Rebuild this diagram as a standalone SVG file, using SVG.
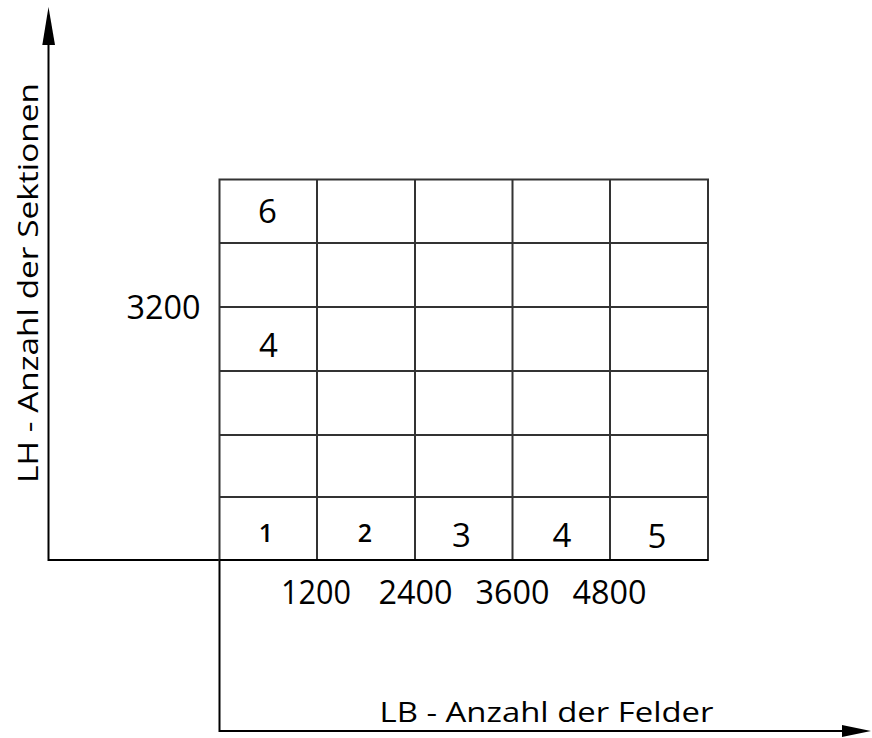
<svg xmlns="http://www.w3.org/2000/svg" width="872" height="738" viewBox="0 0 872 738">
<style>
.grid{stroke:#333;stroke-width:2;fill:none}
.axis{stroke:#000;stroke-width:2;fill:none}
.num{font-family:"Open Sans","Noto Sans",sans-serif;font-size:33px;fill:#000;text-anchor:middle}
.sm{font-size:25px;font-weight:600}
.lbl{font-family:"Open Sans","Noto Sans",sans-serif;font-size:28px;fill:#000;text-anchor:middle}
</style>
<rect width="872" height="738" fill="#fff"/>
<g id="connectors">
<polyline class="axis" points="48.5,44 48.5,560 219.5,560"/>
<polygon points="48.5,7 42.3,45 55,45" fill="#000"/>
<polyline class="axis" points="219.5,560 219.5,731 843,731"/>
<polygon points="871,731 842,725 842,737" fill="#000"/>
</g>
<g id="grid">
<rect class="grid" x="219.5" y="179.5" width="488.5" height="380.5"/>
<line class="grid" x1="317" y1="179.5" x2="317" y2="560"/>
<line class="grid" x1="415" y1="179.5" x2="415" y2="560"/>
<line class="grid" x1="512.5" y1="179.5" x2="512.5" y2="560"/>
<line class="grid" x1="610" y1="179.5" x2="610" y2="560"/>
<line class="grid" x1="219.5" y1="243" x2="708" y2="243"/>
<line class="grid" x1="219.5" y1="307" x2="708" y2="307"/>
<line class="grid" x1="219.5" y1="371" x2="708" y2="371"/>
<line class="grid" x1="219.5" y1="435" x2="708" y2="435"/>
<line class="grid" x1="219.5" y1="497" x2="708" y2="497"/>
<line class="axis" x1="219.5" y1="560" x2="708" y2="560"/>
</g>
<g id="cell-labels">
<text class="num" x="267.5" y="223">6</text>
<text class="num" x="268.5" y="357">4</text>
<text class="num sm" x="266" y="542">1</text>
<text class="num sm" x="365" y="542">2</text>
<text class="num" x="461.5" y="547">3</text>
<text class="num" x="562" y="547">4</text>
<text class="num" x="657" y="548">5</text>
</g>
<g id="scale-labels">
<text class="num" x="163.5" y="319" textLength="74" lengthAdjust="spacingAndGlyphs">3200</text>
<text class="num" x="316" y="604" textLength="70" lengthAdjust="spacingAndGlyphs">1200</text>
<text class="num" x="415.5" y="604" textLength="74" lengthAdjust="spacingAndGlyphs">2400</text>
<text class="num" x="512.5" y="604" textLength="74" lengthAdjust="spacingAndGlyphs">3600</text>
<text class="num" x="609.5" y="604" textLength="74" lengthAdjust="spacingAndGlyphs">4800</text>
</g>
<g id="axis-labels">
<text class="lbl" x="546.5" y="722" textLength="334" lengthAdjust="spacingAndGlyphs">LB - Anzahl der Felder</text>
<text class="lbl" transform="translate(38,283) rotate(-90)" x="0" y="0" textLength="400" lengthAdjust="spacingAndGlyphs">LH - Anzahl der Sektionen</text>
</g>
</svg>
